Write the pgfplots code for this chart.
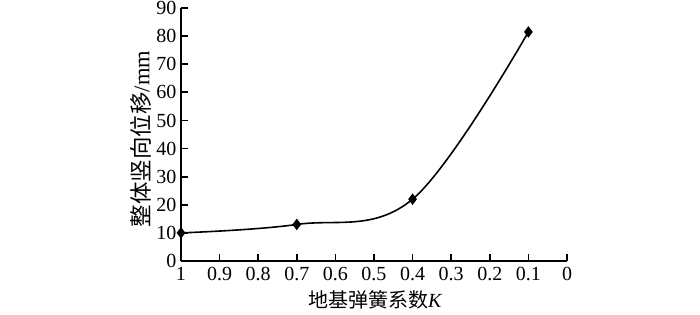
\documentclass[border=0pt]{standalone}
\usepackage{pgfplots}
\pgfplotsset{compat=1.18}
\usepackage{fontspec}
\setmainfont{Liberation Serif}
\newfontfamily\cjk{Noto Sans CJK SC}
\begin{document}
\begin{tikzpicture}
\path[use as bounding box] (0,0) rectangle (700bp,315bp);
\begin{axis}[
  at={(181bp,54bp)}, anchor=south west,
  scale only axis, width=386bp, height=253bp,
  x dir=reverse,
  xmin=0, xmax=1, ymin=0, ymax=90,
  axis lines*=left,
  axis line style={line width=2.4pt, -},
  tick style={line width=1.8pt, black},
  major tick length=7bp,
  tick align=inside,
  xtick={0,0.1,...,1.01},
  xticklabels={0,0.1,0.2,0.3,0.4,0.5,0.6,0.7,0.8,0.9,1},
  ytick={0,10,...,90},
  /pgf/number format/assume math mode=true,
  font=\fontsize{20bp}{23bp}\selectfont,
  tick label style={font=\fontsize{20bp}{23bp}\selectfont},
  yticklabel style={xshift=-1bp},
  xticklabel style={yshift=-3bp},
  xlabel={{\cjk 地基弹簧系数}\textit{K}},
  ylabel={{\cjk 整体竖向位移}/mm},
  xlabel style={at={(axis description cs:0.503,-0.155)}, anchor=center},
  ylabel style={at={(axis description cs:-0.104,0.482)}, anchor=center, rotate=0,
    font=\fontsize{22.5bp}{25bp}\selectfont},
  clip=false,
]
\addplot[black, line width=1.6pt, smooth, tension=0.6, mark=diamond*, mark size=4.5bp,
  mark options={solid, fill=black}] coordinates {
  (1,10) (0.7,13) (0.4,22) (0.1,81.5)
};
\end{axis}
\end{tikzpicture}
\end{document}
